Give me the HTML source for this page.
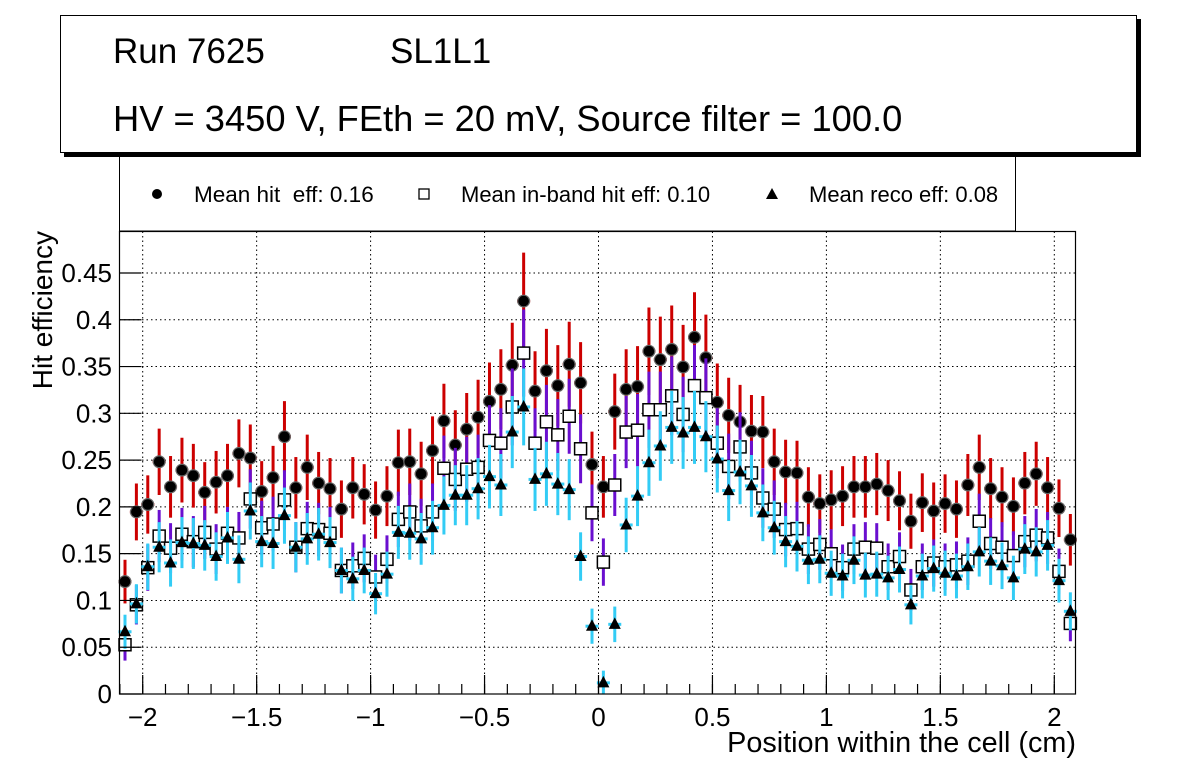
<!DOCTYPE html>
<html><head><meta charset="utf-8"><style>
html,body{margin:0;padding:0;background:#fff;}
svg{display:block;font-family:"Liberation Sans",sans-serif;}
</style></head><body>
<svg id="s" width="1196" height="772" viewBox="0 0 1196 772" xmlns="http://www.w3.org/2000/svg">
<rect width="1196" height="772" fill="#fff"/>
<rect x="119.5" y="140" width="896" height="91" fill="#fff" stroke="#000" stroke-width="1"/>
<rect x="64" y="19" width="1077" height="138" fill="#000"/>
<rect x="60.5" y="15.5" width="1076" height="137" fill="#fff" stroke="#000" stroke-width="1"/>
<text x="113" y="63" font-size="35">Run 7625</text>
<text x="390" y="63" font-size="35">SL1L1</text>
<text x="113" y="131" font-size="36.3">HV = 3450 V, FEth = 20 mV, Source filter = 100.0</text>
<circle cx="157" cy="194" r="5" fill="#000"/>
<text x="194" y="202" font-size="22.5">Mean hit&#160; eff: 0.16</text>
<rect x="419" y="189" width="10" height="10" fill="#fff" stroke="#000" stroke-width="1.3"/>
<text x="461" y="202" font-size="22">Mean in-band hit eff: 0.10</text>
<polygon points="772,188 766,199 778,199" fill="#000"/>
<text x="809" y="202" font-size="22">Mean reco eff: 0.08</text>
<g id="grid"></g>
<g id="data"></g>
<rect x="119.5" y="231.5" width="956" height="462.5" fill="none" stroke="#000" stroke-width="1.2"/>
<g id="axes" font-size="26"></g>
<text x="1076" y="752" font-size="28.8" text-anchor="end">Position within the cell (cm)</text>
<text transform="translate(52,231) rotate(-90)" font-size="28" text-anchor="end">Hit efficiency</text>
</svg>
<script>
const NS="http://www.w3.org/2000/svg";
function el(p,t,a,txt){const e=document.createElementNS(NS,t);for(const k in a)e.setAttribute(k,a[k]);if(txt!==undefined)e.textContent=txt;p.appendChild(e);return e;}
const grid=document.getElementById('grid'),ax=document.getElementById('axes'),dg=document.getElementById('data');
const X0=598.5,SX=227.9,Y0=694,SY=935.6,L=119.5,R=1075.5,T=231.5,B=694;
for(let i=-4;i<=4;i++){const v=i*0.5,x=X0+v*SX;
 el(grid,'line',{x1:x,x2:x,y1:T,y2:B,stroke:'#000','stroke-width':1,'stroke-dasharray':'1.5,3'});
 el(ax,'line',{x1:x,x2:x,y1:B,y2:B-19,stroke:'#000','stroke-width':1.2});
 let lab=(v<0?'\u2212':'')+(Math.abs(v)===0?'0':String(Math.abs(v)));
 el(ax,'text',{x:x,y:726,'text-anchor':'middle'},lab);}
for(let i=-21;i<=20;i++){const x=X0+i*0.1*SX;if(x<L||x>R)continue;el(ax,'line',{x1:x,x2:x,y1:B,y2:B-10,stroke:'#000','stroke-width':1.2});}
for(let i=0;i<=9;i++){const v=i*0.05,y=Y0-v*SY;
 if(i>0)el(grid,'line',{x1:L,x2:R,y1:y,y2:y,stroke:'#000','stroke-width':1,'stroke-dasharray':'1.5,3'});
 el(ax,'line',{x1:L,x2:L+22,y1:y,y2:y,stroke:'#000','stroke-width':1.2});
 el(ax,'text',{x:112,y:y+9,'text-anchor':'end'},i===0?'0':String(+v.toFixed(2)));}
const C=[.121,.196,.204,.250,.223,.241,.235,.217,.228,.235,.259,.254,.218,.233,.277,.222,.244,.227,.221,.199,.222,.215,.198,.213,.249,.250,.237,.262,.294,.268,.285,.298,.315,.328,.354,.423,.326,.348,.332,.355,.335,.247,.223,.304,.328,.331,.369,.360,.371,.352,.384,.362,.314,.300,.293,.283,.282,.250,.239,.238,.212,.205,.209,.213,.223,.223,.226,.219,.208,.186,.206,.197,.205,.199,.225,.244,.221,.212,.202,.227,.237,.222,.200,.166];
const S=[.053,.096,.136,.170,.157,.172,.164,.174,.156,.173,.168,.210,.179,.183,.209,.158,.178,.177,.173,.133,.138,.146,.126,.145,.188,.196,.181,.196,.243,.231,.242,.244,.273,.270,.309,.367,.270,.293,.279,.299,.264,.195,.142,.225,.282,.284,.306,.306,.321,.301,.332,.319,.270,.245,.266,.238,.211,.199,.177,.178,.156,.161,.151,.136,.156,.158,.157,.137,.148,.112,.137,.141,.137,.139,.143,.186,.162,.158,.149,.164,.171,.168,.132,.076];
const Tr=[.067,.097,.137,.158,.141,.163,.162,.160,.148,.168,.145,.197,.164,.162,.192,.158,.167,.172,.163,.133,.124,.133,.108,.129,.174,.173,.167,.179,.203,.214,.214,.221,.234,.225,.282,.309,.231,.237,.226,.220,.148,.073,.012,.075,.182,.213,.249,.267,.287,.281,.287,.277,.253,.219,.239,.224,.195,.179,.164,.159,.144,.145,.130,.127,.144,.128,.129,.125,.134,.096,.127,.135,.130,.127,.137,.153,.143,.138,.125,.156,.153,.160,.122,.089];
const SD=928.9;
function px(k){return 125+11.39*k;}
function py(v){return Y0-v*SD;}
function err(v){return (0.012+0.095*v)*SD;}
function series(arr,col){
 arr.forEach((v,k)=>{const x=px(k),y=py(v),e=err(v);
  el(dg,'line',{x1:x,x2:x,y1:Math.max(T,y-e),y2:Math.min(B,y+e),stroke:col,'stroke-width':3});
  el(dg,'line',{x1:x-6.5,x2:x+6.5,y1:y,y2:y,stroke:col,'stroke-width':3});});}
function markers(arr,type){
 arr.forEach((v,k)=>{const x=px(k),y=py(v);
  if(type==='c'){el(dg,'circle',{cx:x,cy:y,r:6.5,fill:'#666'});el(dg,'circle',{cx:x,cy:y,r:5.3,fill:'#000'});}
  else if(type==='s'){el(dg,'rect',{x:x-6,y:y-6,width:12,height:12,fill:'#fff',stroke:'#000','stroke-width':1.5});}
  else{el(dg,'polygon',{points:`${x},${y-7} ${x-6},${y+4.5} ${x+6},${y+4.5}`,fill:'#000'});}
 });}
series(C,'#cc0000');markers(C,'c');
series(S,'#6a0fcf');markers(S,'s');
series(Tr,'#33ccf5');markers(Tr,'t');
</script>
</body></html>
